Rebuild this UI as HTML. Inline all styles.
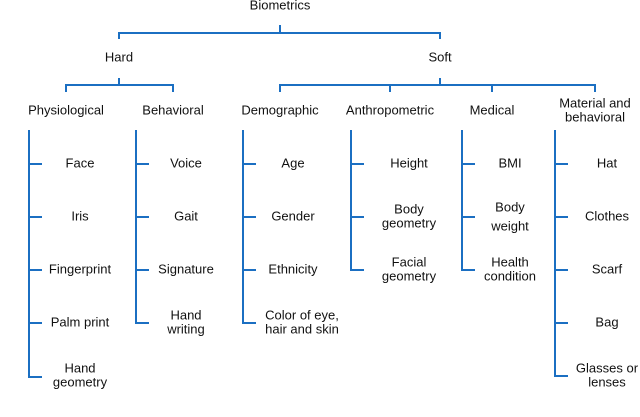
<!DOCTYPE html>
<html><head><meta charset="utf-8"><style>
body{margin:0;background:#fff}
svg{display:block}
text{font-family:"Liberation Sans",sans-serif;font-size:13px;fill:#111;text-anchor:middle;dominant-baseline:middle}
</style></head><body>
<svg width="640" height="417" viewBox="0 0 640 417" xmlns="http://www.w3.org/2000/svg">
<g stroke="#1b6fc2" stroke-width="2" fill="none">
<path d="M280 25V33M119 39V33H440V39"/>
<path d="M119 78V85M66 92V85H173V92"/>
<path d="M440 78V85M280 92V85H595V92M390 85V92M492 85V92"/>
<path d="M29 130V377H42M29 164H42M29 217H42M29 270H42M29 323H42"/>
<path d="M136 130V323H149M136 164H149M136 217H149M136 270H149"/>
<path d="M243 130V323H256M243 164H256M243 217H256M243 270H256"/>
<path d="M351 130V270H364M351 164H364M351 217H364"/>
<path d="M462 130V270H475M462 164H475M462 217H475"/>
<path d="M555 130V376H568M555 164H568M555 217H568M555 270H568M555 323H568"/>
</g>
<text x="280" y="6">Biometrics</text>
<text x="119" y="58">Hard</text>
<text x="440" y="58">Soft</text>
<text x="66" y="111">Physiological</text>
<text x="173" y="111">Behavioral</text>
<text x="280" y="111">Demographic</text>
<text x="390" y="111">Anthropometric</text>
<text x="492" y="111">Medical</text>
<text x="595" y="104">Material and</text>
<text x="595" y="118">behavioral</text>
<text x="80" y="164">Face</text>
<text x="80" y="217">Iris</text>
<text x="80" y="270">Fingerprint</text>
<text x="80" y="323">Palm print</text>
<text x="80" y="369">Hand</text>
<text x="80" y="383">geometry</text>
<text x="186" y="164">Voice</text>
<text x="186" y="217">Gait</text>
<text x="186" y="270">Signature</text>
<text x="186" y="316">Hand</text>
<text x="186" y="330">writing</text>
<text x="293" y="164">Age</text>
<text x="293" y="217">Gender</text>
<text x="293" y="270">Ethnicity</text>
<text x="302" y="316">Color of eye,</text>
<text x="302" y="330">hair and skin</text>
<text x="409" y="164">Height</text>
<text x="409" y="210">Body</text>
<text x="409" y="224">geometry</text>
<text x="409" y="263">Facial</text>
<text x="409" y="277">geometry</text>
<text x="510" y="164">BMI</text>
<text x="510" y="208">Body</text>
<text x="510" y="227">weight</text>
<text x="510" y="263">Health</text>
<text x="510" y="277">condition</text>
<text x="607" y="164">Hat</text>
<text x="607" y="217">Clothes</text>
<text x="607" y="270">Scarf</text>
<text x="607" y="323">Bag</text>
<text x="607" y="369">Glasses or</text>
<text x="607" y="383">lenses</text>
</svg>
</body></html>
